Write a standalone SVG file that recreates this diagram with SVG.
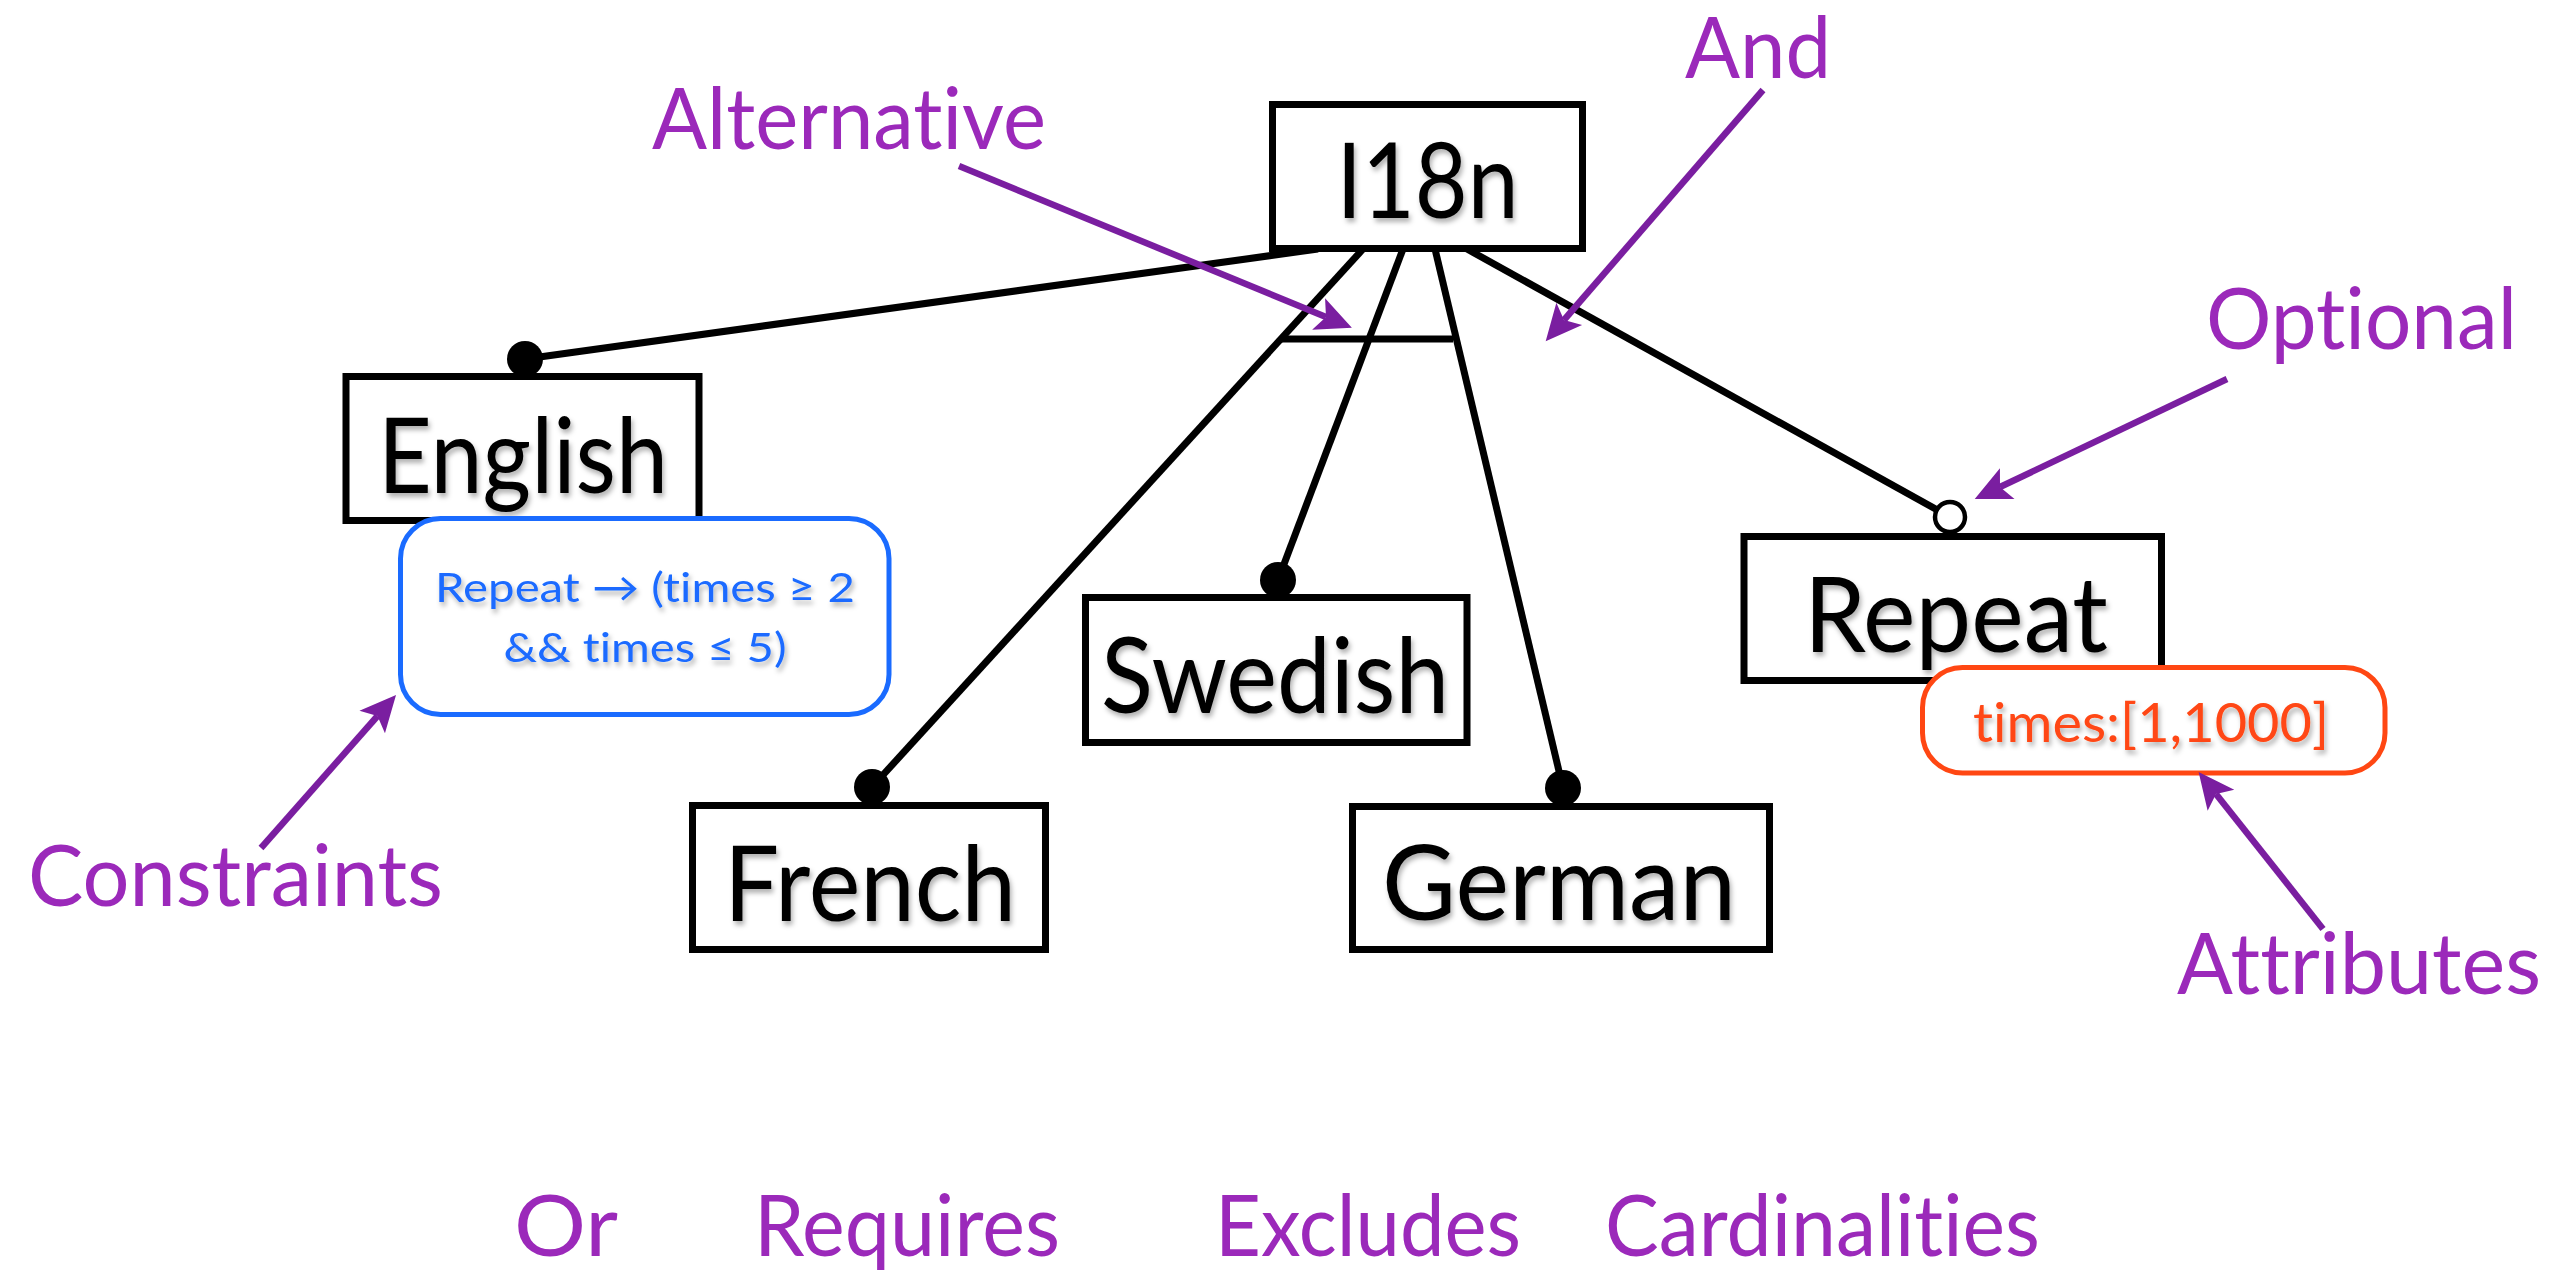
<svg xmlns="http://www.w3.org/2000/svg" width="2576" height="1270" viewBox="0 0 2576 1270">
<style>
  text { font-variant-ligatures: none; font-feature-settings: "liga" 0, "dlig" 0; }
  .box { fill: #fff; stroke: #000; stroke-width: 7; }
  .ntext { font-family: Lato, "DejaVu Sans", sans-serif; font-size: 104px; fill: #000; text-anchor: middle; filter: url(#shadow); }
  .edge { stroke: #000; stroke-width: 7; fill: none; }
  .dot { fill: #000; }
  .opt { fill: #fff; stroke: #000; stroke-width: 4.5; }
  .label { font-family: Lato, "DejaVu Sans", sans-serif; font-size: 85px; fill: #9B29BA; }
  .arrow { stroke: #7A1EA0; stroke-width: 6.5; fill: none; marker-end: url(#head); }
  .cons { fill: #fff; stroke: #1A6BFF; stroke-width: 5; }
  .ctext { font-family: Lato, "DejaVu Sans", sans-serif; font-size: 41px; fill: #1A6BFF; text-anchor: middle; filter: url(#shadow); }
  .attr { fill: #fff; stroke: #FF4713; stroke-width: 5; }
  .atext { font-family: Lato, "DejaVu Sans", sans-serif; font-size: 55px; fill: #FF4713; text-anchor: middle; filter: url(#shadow); }
</style>
<defs>
  <filter id="shadow" x="-10%" y="-20%" width="130%" height="150%">
    <feDropShadow dx="2" dy="4" stdDeviation="2.5" flood-color="#000" flood-opacity="0.3"/>
  </filter>
  <marker id="head" markerUnits="userSpaceOnUse" viewBox="-12 -20 44 40" markerWidth="44" markerHeight="40" refX="0" refY="0" orient="auto">
    <path d="M28,0 L-8,-17 L0,0 L-8,17 Z" fill="#7A1EA0"/>
  </marker>
</defs>
<rect width="2576" height="1270" fill="#fff"/>

<g id="connectors">
  <line class="edge" x1="1318" y1="249" x2="525" y2="359"/>
  <line class="edge" x1="1363" y1="249" x2="872" y2="787"/>
  <line class="edge" x1="1403" y1="249" x2="1278" y2="580"/>
  <line class="edge" x1="1435" y1="249" x2="1563" y2="788"/>
  <line class="edge" x1="1467" y1="249" x2="1950" y2="517"/>
  <line class="edge" x1="1282" y1="339" x2="1453" y2="339"/>
  <circle class="dot" cx="525" cy="359" r="18"/>
  <circle class="dot" cx="872" cy="787" r="18"/>
  <circle class="dot" cx="1278" cy="580" r="18"/>
  <circle class="dot" cx="1563" cy="788" r="18"/>
  <circle class="opt" cx="1950" cy="517" r="15"/>
</g>

<g id="node-i18n">
  <rect class="box" x="1272.5" y="104.5" width="310" height="144"/>
  <text class="ntext" x="1427.5" y="218" textLength="182" lengthAdjust="spacingAndGlyphs">I18n</text>
</g>
<g id="node-english">
  <rect class="box" x="346" y="376.5" width="353" height="144"/>
  <text class="ntext" x="523" y="493" textLength="290" lengthAdjust="spacingAndGlyphs">English</text>
</g>
<g id="node-swedish">
  <rect class="box" x="1085.5" y="597.5" width="381.5" height="145"/>
  <text class="ntext" x="1275" y="713" textLength="348" lengthAdjust="spacingAndGlyphs">Swedish</text>
</g>
<g id="node-french">
  <rect class="box" x="692.5" y="805.5" width="353" height="144"/>
  <text class="ntext" x="870" y="921" textLength="292" lengthAdjust="spacingAndGlyphs">French</text>
</g>
<g id="node-german">
  <rect class="box" x="1352.5" y="806.5" width="417" height="143"/>
  <text class="ntext" x="1559" y="920" textLength="354" lengthAdjust="spacingAndGlyphs">German</text>
</g>
<g id="node-repeat">
  <rect class="box" x="1744" y="536.5" width="417.5" height="144"/>
  <text class="ntext" x="1956" y="652" textLength="304" lengthAdjust="spacingAndGlyphs">Repeat</text>
</g>

<g id="constraint">
  <rect class="cons" x="400.5" y="518.5" width="488.5" height="196" rx="40"/>
  <text class="ctext" x="645" y="602" textLength="420" lengthAdjust="spacingAndGlyphs">Repeat → (times ≥ 2</text>
  <text class="ctext" x="645" y="662" textLength="283" lengthAdjust="spacingAndGlyphs">&amp;&amp; times ≤ 5)</text>
</g>
<g id="attribute">
  <rect class="attr" x="1922.5" y="667.5" width="462.5" height="105.5" rx="40"/>
  <text class="atext" x="2151" y="742" textLength="356" lengthAdjust="spacingAndGlyphs">times:[1,1000]</text>
</g>

<g id="annotations">
  <line class="arrow" x1="959" y1="166" x2="1326" y2="317"/>
  <line class="arrow" x1="1763" y1="90" x2="1564" y2="320"/>
  <line class="arrow" x1="2227" y1="379" x2="2000" y2="487"/>
  <line class="arrow" x1="261" y1="848" x2="377.5" y2="716"/>
  <line class="arrow" x1="2323" y1="929" x2="2216" y2="794"/>
  <text class="label" x="652" y="149" textLength="394" lengthAdjust="spacingAndGlyphs">Alternative</text>
  <text class="label" x="1685" y="78" textLength="146" lengthAdjust="spacingAndGlyphs">And</text>
  <text class="label" x="2206" y="349" textLength="311" lengthAdjust="spacingAndGlyphs">Optional</text>
  <text class="label" x="28" y="906" textLength="415" lengthAdjust="spacingAndGlyphs">Constraints</text>
  <text class="label" x="2177" y="994" textLength="364" lengthAdjust="spacingAndGlyphs">Attributes</text>
  <text class="label" x="514" y="1256" textLength="104" lengthAdjust="spacingAndGlyphs">Or</text>
  <text class="label" x="754" y="1256" textLength="306" lengthAdjust="spacingAndGlyphs">Requires</text>
  <text class="label" x="1215" y="1256" textLength="306" lengthAdjust="spacingAndGlyphs">Excludes</text>
  <text class="label" x="1605" y="1256" textLength="435" lengthAdjust="spacingAndGlyphs">Cardinalities</text>
</g>
</svg>
